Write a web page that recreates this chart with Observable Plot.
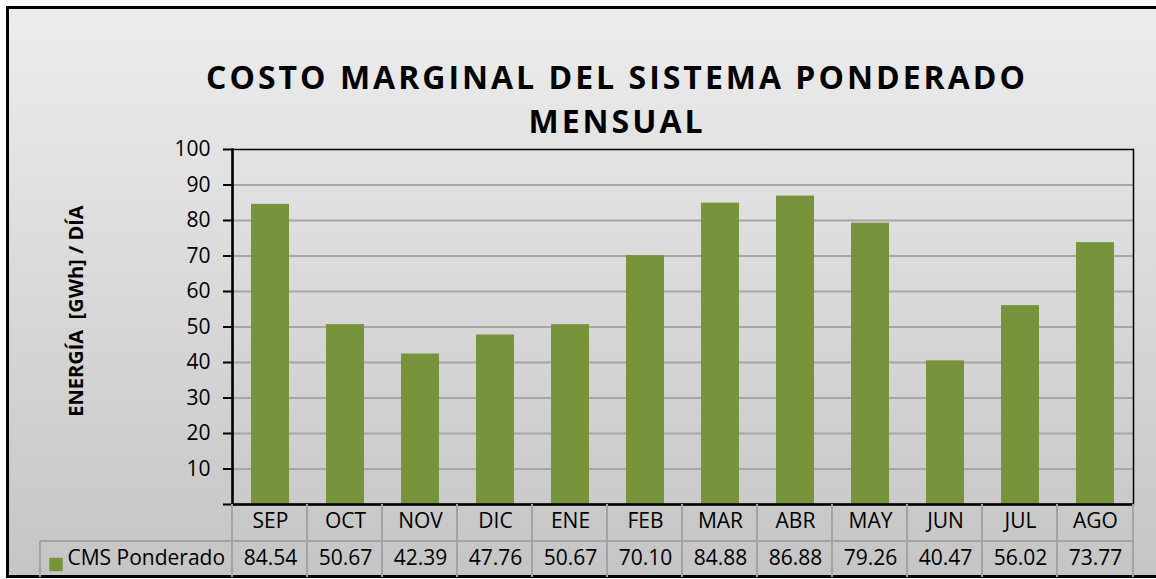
<!DOCTYPE html>
<html>
<head>
<meta charset="utf-8">
<script src="https://cdn.jsdelivr.net/npm/d3@7"></script>
<script src="https://cdn.jsdelivr.net/npm/@observablehq/plot@0.6"></script>
<style>
  html, body { margin: 0; padding: 0; background: #fff; }
  #wrap { position: relative; width: 1156px; height: 579px; overflow: hidden; background: #fff; }
  #bg { position: absolute; left: 6px; top: 6px; width: 1250px; height: 566px; border: 3px solid #000;
        background: linear-gradient(#ededed, #c5c5c5); }
  #title { position: absolute; left: 117px; width: 1000px; top: 55px; text-align: center;
           font: bold 32px "Open Sans", sans-serif; letter-spacing: 3px; line-height: 44px; color: #000; }
  #chart { position: absolute; left: 0; top: 0; }
</style>
</head>
<body>
<div id="wrap">
  <div id="bg"></div>
  <div id="title">COSTO MARGINAL DEL SISTEMA PONDERADO<br>MENSUAL</div>
  <div id="chart"></div>
</div>
<script>
const months = ["SEP","OCT","NOV","DIC","ENE","FEB","MAR","ABR","MAY","JUN","JUL","AGO"];
const values = [84.54, 50.67, 42.39, 47.76, 50.67, 70.10, 84.88, 86.88, 79.26, 40.47, 56.02, 73.77];
const yTicks = [0, 10, 20, 30, 40, 50, 60, 70, 80, 90, 100];
const seriesName = "CMS Ponderado";
const yLabel = "ENERGÍA\u00a0 [GWh] / DÍA";

const data = months.map((m, i) => ({month: m, value: values[i]}));
const green = "#77933c";
const gridGray = "#a6a6a6";
const tableGray = "#a3a3a3";
const fs = 21;

function tableGrid(index, scales, vals, dims) {
  const x = scales.x;
  const bw = x.bandwidth();
  const top = dims.height - dims.marginBottom;     // x-axis line
  const rowMid = top + 37;
  const bottom = dims.height - 2;
  const g = d3.create("svg:g").attr("stroke", tableGray).attr("stroke-width", 2).attr("fill", "none");
  const edges = months.map(m => x(m) - bw / 2);
  edges.push(x(months[months.length - 1]) + bw * 1.5);
  for (const e of edges) g.append("line").attr("x1", e).attr("x2", e).attr("y1", top).attr("y2", bottom);
  g.append("line").attr("x1", 40).attr("x2", edges[edges.length - 1]).attr("y1", rowMid).attr("y2", rowMid);
  g.append("line").attr("x1", 40).attr("x2", 40).attr("y1", rowMid).attr("y2", bottom);
  return g.node();
}

const chart = Plot.plot({
  width: 1156,
  height: 579,
  marginLeft: 232,
  marginRight: 23,
  marginTop: 149,
  marginBottom: 75,
  style: {background: "transparent", fontFamily: "'Open Sans', sans-serif", fontSize: fs + "px", color: "#000", overflow: "visible"},
  x: {domain: months, paddingInner: 0.5, paddingOuter: 0.25, axis: null},
  y: {domain: [0, 100], axis: null},
  marks: [
    Plot.gridY(yTicks.filter(d => d > 0 && d < 100), {stroke: gridGray, strokeOpacity: 1, strokeWidth: 2}),
    Plot.barY(data, {x: "month", y: "value", fill: green}),
    Plot.axisY(yTicks, {label: null, tickSize: 9, tickPadding: 13, tickFormat: d => d === 0 ? "" : d, stroke: "#000", strokeWidth: 2, fill: "#000", fontSize: fs}),
    Plot.frame({stroke: "#000", strokeWidth: 1.5}),
    Plot.frame({anchor: "left", stroke: "#000", strokeWidth: 2.5}),
    Plot.ruleY([0], {stroke: "#000", strokeWidth: 2.5}),
    tableGrid,
    Plot.text(months, {x: d => d, frameAnchor: "bottom", dy: 23, fill: "#000", fontSize: fs}),
    Plot.text(data, {x: "month", text: d => d.value.toFixed(2), frameAnchor: "bottom", dy: 60, fill: "#000", fontSize: fs}),
    Plot.dot([seriesName], {frameAnchor: "bottom-left", dx: 55.5 - 232, dy: 60, symbol: "square", r: 7.6, fill: green, stroke: null}),
    Plot.text([seriesName], {frameAnchor: "bottom-left", dx: 67 - 232, dy: 60, textAnchor: "start", fill: "#000", fontSize: fs}),
    Plot.text([yLabel], {frameAnchor: "left", textAnchor: "middle", rotate: -90, dx: -156, dy: -16, fontWeight: "bold", fill: "#000", fontSize: 20})
  ]
});
document.getElementById("chart").appendChild(chart);
</script>
</body>
</html>
